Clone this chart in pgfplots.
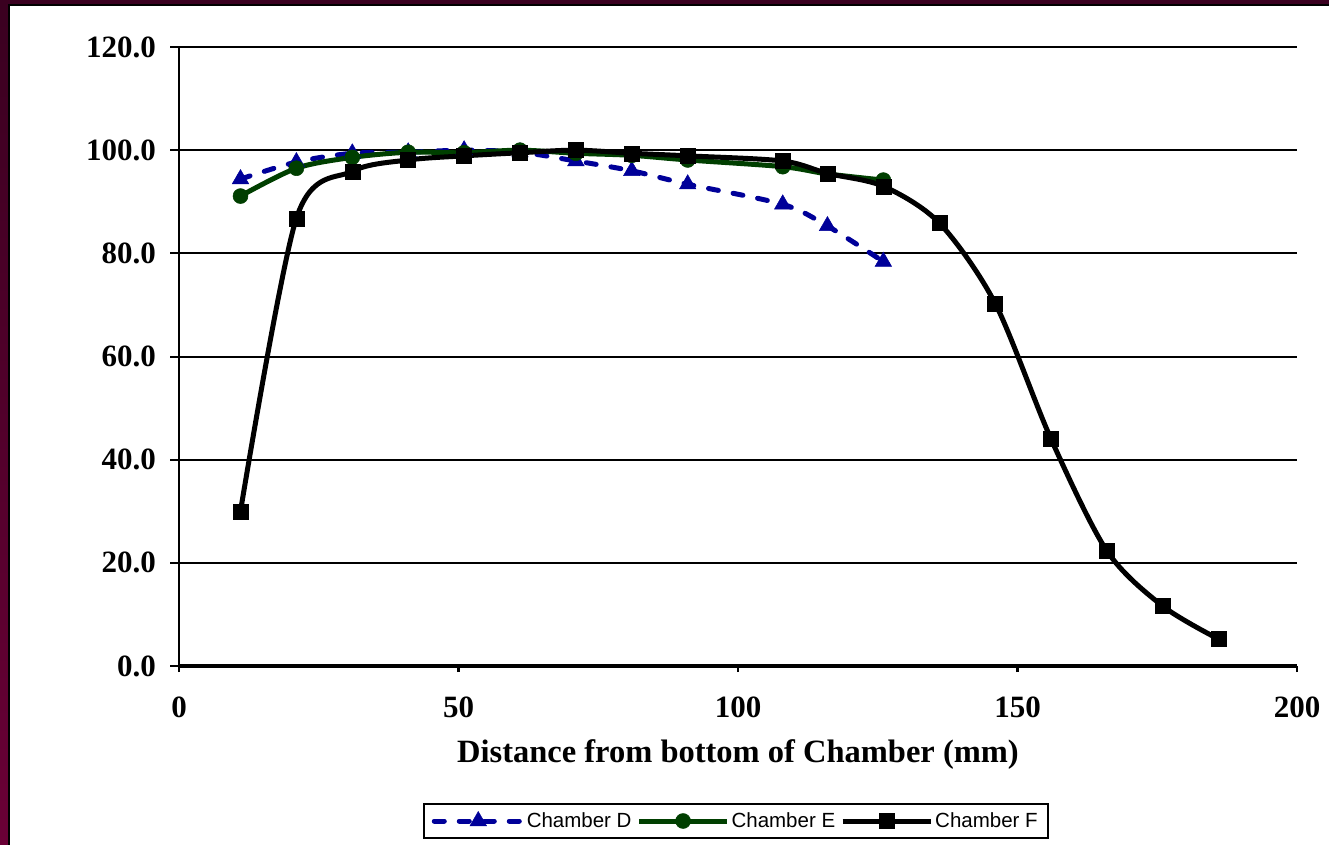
\documentclass[border=0pt]{standalone}
\usepackage{fontspec}
\setmainfont{Liberation Serif}
\newfontfamily\arialfont{Liberation Sans}
\usepackage{pgfplots}
\pgfplotsset{compat=1.18}

\definecolor{chamberD}{HTML}{000099}
\definecolor{chamberE}{HTML}{003F00}
\definecolor{slideDark}{HTML}{3A0020}
\definecolor{slideMid}{HTML}{6A0036}

\begin{document}
\begin{tikzpicture}
% page and slide frame
\path[use as bounding box] (0,0) rectangle (1329bp,-845bp);
\fill[white] (0,0) rectangle (1329bp,-845bp);
\shade[top color=slideDark, bottom color=slideMid] (0,0) rectangle (8bp,-845bp);
\fill[slideDark] (0,0) rectangle (1329bp,-4bp);
\fill[black] (8bp,-4bp) rectangle (10bp,-845bp);
\fill[black] (8bp,-4bp) rectangle (1329bp,-6bp);

\begin{axis}[
  scale only axis,
  width=1118bp, height=619bp,
  anchor=south west, at={(179bp,-666bp)},
  xmin=0, xmax=200, ymin=0, ymax=120,
  xtick={0,50,100,150,200},
  ytick={0,20,40,60,80,100,120},
  axis x line*=bottom, axis y line*=left,
  x axis line style={line width=3.5bp},
  y axis line style={line width=2.5bp},
  ymajorgrids,
  grid style={black, line width=2bp},
  tick align=outside,
  major tick length=9bp,
  xtick style={black, line width=2.5bp, /pgfplots/major tick length=6bp},
  ytick style={black, line width=2bp},
  /pgf/number format/assume math mode=true,
  yticklabel style={/pgf/number format/fixed, /pgf/number format/fixed zerofill,
    /pgf/number format/precision=1},
  ticklabel style={font=\fontsize{31bp}{36bp}\selectfont\bfseries},
  xticklabel style={inner sep=0pt, anchor=north, yshift=-22bp},
  yticklabel style={inner sep=0pt, anchor=east, xshift=-14bp},
  xlabel={Distance from bottom of Chamber (mm)},
  xlabel style={font=\fontsize{32.5bp}{38bp}\selectfont\bfseries,
    at={(0.5,-0.1435)}, anchor=center},
  legend columns=3,
  legend style={at={(0.498,-0.2504)}, anchor=center,
    draw=black, line width=1.5bp,
    font=\fontsize{20.5bp}{24bp}\selectfont\arialfont,
    inner xsep=8bp, inner ysep=7bp,
    /tikz/every even column/.append style={column sep=3bp}},
  legend cell align=left,
  legend image code/.code={%
    \draw[mark repeat=2, mark phase=2, #1]
      plot coordinates {(0bp,0bp) (44bp,0bp) (88bp,0bp)};},
]

% Chamber D
\addplot[chamberD, line width=5bp, dash pattern=on 10bp off 15bp, line cap=round,
  smooth, tension=0.5,
  mark=triangle*, mark size=9.5bp,
  mark options={solid, fill=chamberD, draw=chamberD, line width=0.5bp}]
  coordinates {
  (11,94.4) (21,97.7) (31,99.4) (41,99.6) (51,100.0) (61,99.6)
  (71,97.9) (81,96.0) (91,93.4) (108,89.5) (116,85.3) (126,78.4)
  };
\addlegendentry{Chamber D}

% Chamber E
\addplot[chamberE, line width=5bp, smooth, tension=0.5,
  mark=*, mark size=7.5bp,
  mark options={solid, fill=chamberE, draw=chamberE, line width=0.5bp}]
  coordinates {
  (11,91.1) (21,96.5) (31,98.6) (41,99.6) (51,99.5) (61,100.0)
  (71,99.4) (81,99.0) (91,98.1) (108,96.8) (116,95.4) (126,94.2)
  };
\addlegendentry{Chamber E}

% Chamber F
\addplot[black, line width=5bp, smooth, tension=0.5,
  mark=square*, mark size=7.5bp,
  mark options={solid, fill=black, draw=black, line width=0.5bp}]
  coordinates {
  (11,30.0) (21,86.8) (31,95.9) (41,98.1) (51,98.9) (61,99.5)
  (71,100.0) (81,99.4) (91,98.9) (108,97.9) (116,95.5) (126,93.0)
  (136,85.9) (146,70.3) (156,44.0) (166,22.3) (176,11.6) (186,5.2)
  };
\addlegendentry{Chamber F}

\end{axis}
\end{tikzpicture}
\end{document}
